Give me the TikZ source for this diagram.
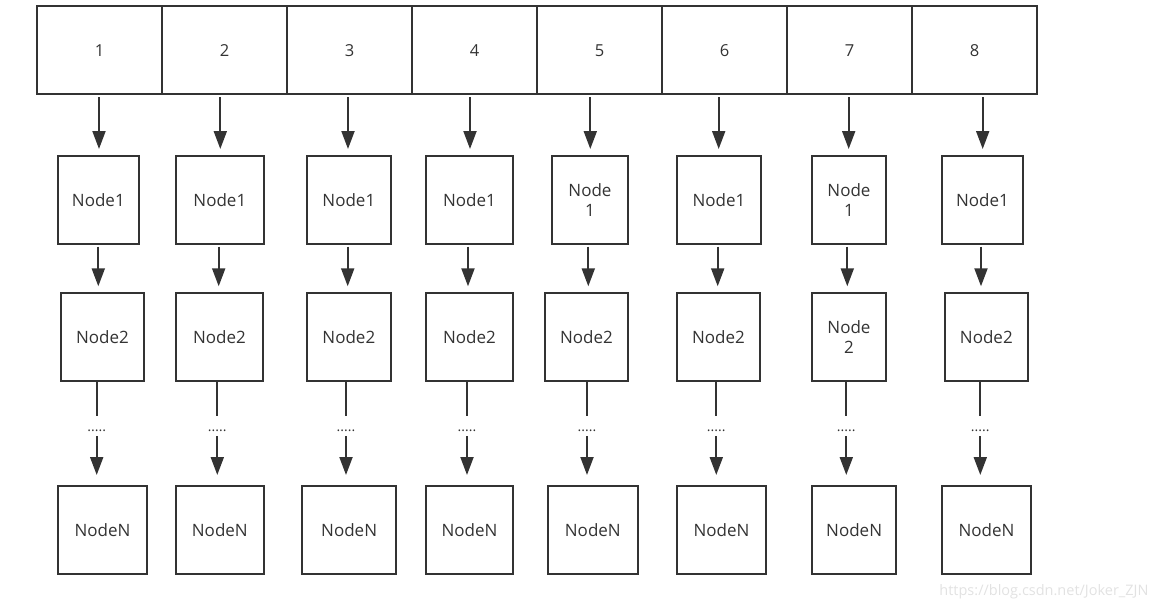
\documentclass[tikz,border=0pt]{standalone}
\usepackage{fontspec}
\setmainfont{Open Sans}
\usetikzlibrary{arrows.meta}
\definecolor{ink}{HTML}{333333}
\definecolor{wmark}{HTML}{E2E2E2}
\tikzset{
  topbox/.style={draw=ink, line width=2pt, minimum width=125pt, minimum height=88pt, inner sep=0pt, text=ink, font=\fontsize{16.5}{20}\selectfont},
  box/.style={draw=ink, line width=2pt, inner sep=0pt, text=ink, align=center, font=\fontsize{17}{20}\selectfont},
  dotsnode/.style={inner sep=0pt, text=ink, text height=15.8pt, text depth=4.5pt, font=\fontsize{14}{14}\selectfont},
  arr/.style={draw=ink, line width=2pt, -{Triangle[width=13pt,length=18pt]}},
  plain/.style={draw=ink, line width=2pt},
}
\begin{document}
\begin{tikzpicture}[x=1pt,y=1pt]
\useasboundingbox (0,0) rectangle (1163,-610);
% top row
\foreach \i in {1,...,8}
  \node[topbox] (top\i) at ({37+125*(\i-1)+62.5},-50.3) {\i};
% Node1 row
\foreach \i/\l/\r/\t in {1/58/138.7/Node1, 2/176/263.7/Node1, 3/306.7/391/Node1, 4/426/513/Node1,
                         5/552/628/{Node\\1}, 6/677/761/Node1, 7/812/886/{Node\\1}, 8/942/1023/Node1}
  \node[box, minimum width={(\r-\l)*1pt}, minimum height=87.7pt] (a\i) at ({(\l+\r)/2},-199.85) {\t};
% Node2 row
\foreach \i/\l/\r/\t in {1/61/144/Node2, 2/176/263/Node2, 3/306.7/391/Node2, 4/426/513/Node2,
                         5/545/628/Node2, 6/677/760/Node2, 7/812/886/{Node\\2}, 8/944.7/1028/Node2}
  \node[box, minimum width={(\r-\l)*1pt}, minimum height=88pt] (b\i) at ({(\l+\r)/2},-337.3) {\t};
% NodeN row
\foreach \i/\l/\r in {1/58/147, 2/176/263.7, 3/302.3/396, 4/426/513,
                      5/548/637.7, 6/677/766, 7/812.3/896, 8/942.3/1030.7}
  \node[box, minimum width={(\r-\l)*1pt}, minimum height=88pt] (n\i) at ({(\l+\r)/2},-530) {NodeN};
% connectors
\foreach \i/\xa/\xb/\xc in {1/99/98.3/96.7, 2/220.3/218.7/217.3, 3/348/347.7/346, 4/470/468/467,
                            5/590.3/588.3/587, 6/718.7/717.7/716.3, 7/848.7/847.3/846.3, 8/982.7/981/980.3}{
  \node[dotsnode] (d\i) at (\xc,-425.85) {.....};
  \draw[arr, shorten <=2pt, shorten >=6pt] (top\i.south -| \xa,0) -- (a\i.north -| \xa,0);
  \draw[arr, shorten <=2pt, shorten >=6pt] (a\i.south -| \xb,0) -- (b\i.north -| \xb,0);
  \draw[plain] (b\i.south -| \xc,0) -- (d\i.north -| \xc,0);
  \draw[arr, shorten >=10pt] (d\i.south -| \xc,0) -- (n\i.north -| \xc,0);
}
\node[text=wmark, font=\fontsize{14.5}{14.5}\selectfont, inner sep=0pt] (wm) at (1044,-592) {https://blog.csdn.net/Joker\_ZJN};
\end{tikzpicture}
\end{document}
